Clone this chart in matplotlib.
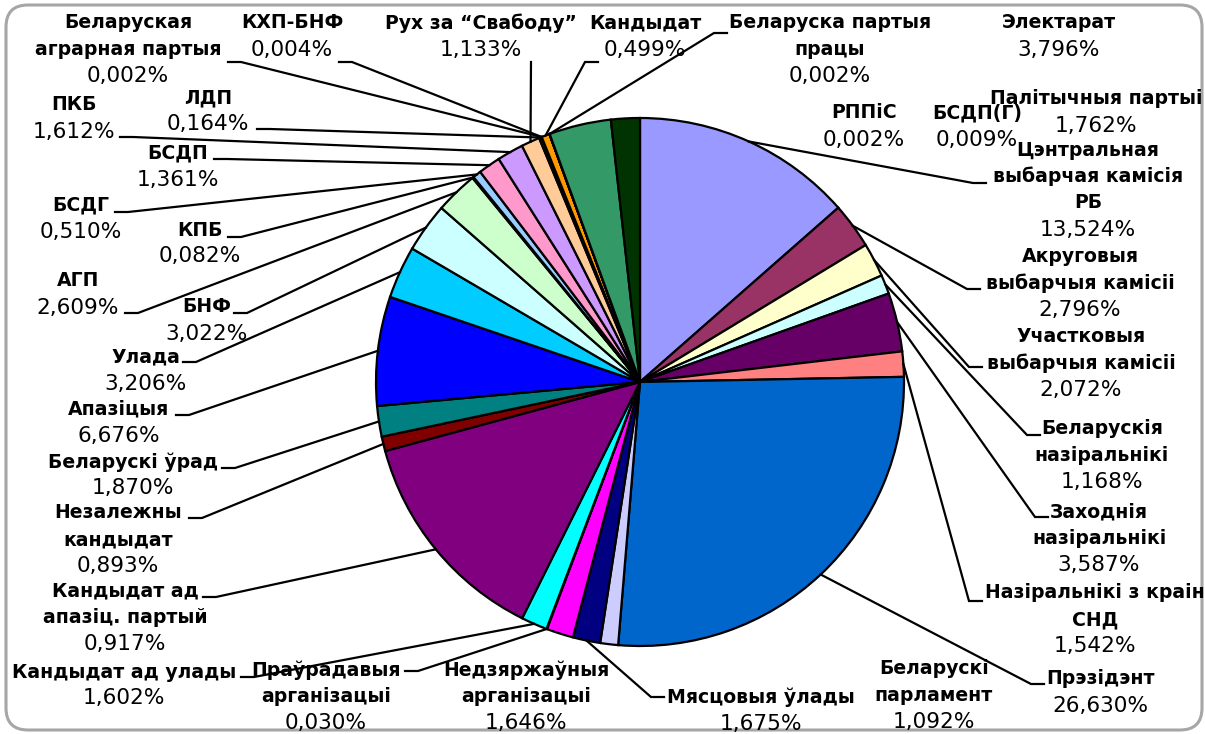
import matplotlib
matplotlib.use('Agg')
import matplotlib.pyplot as plt
from matplotlib.patches import FancyBboxPatch
import numpy as np

W, H = 1205, 734

# слайсы па гадзіннікавай стрэлцы ад 12 гадзін
names = ['Цэнтральная\nвыбарчая камісія\nРБ', 'Акруговыя\nвыбарчыя камісіі',
         'Участковыя\nвыбарчыя камісіі', 'Беларускія\nназіральнікі',
         'Заходнія\nназіральнікі', 'Назіральнікі з краін\nСНД', 'Прэзідэнт',
         'Беларускі\nпарламент', 'Мясцовыя ўлады', 'Недзяржаўныя\nарганізацыі',
         'Праўрадавыя\nарганізацыі', 'Кандыдат ад улады',
         'Кандыдат ад\nапазіц. партый', 'Незалежны\nкандыдат', 'Беларускі ўрад',
         'Апазіцыя', 'Улада', 'БНФ', 'АГП', 'КПБ', 'БСДГ', 'БСДП', 'ПКБ',
         'Рух за “Свабоду”', 'ЛДП', 'Беларуская\nаграрная партыя', 'КХП-БНФ',
         'Кандыдат', 'Беларуска партыя\nпрацы', 'РППіС', 'БСДП(Г)', 'Электарат',
         'Палітычныя партыі']
values = [13.524, 2.796, 2.072, 1.168, 3.587, 1.542, 26.630, 1.092, 1.675, 1.646,
          0.030, 1.602, 13.42, 0.893, 1.870, 6.676, 3.206, 3.022, 2.609, 0.082,
          0.510, 1.361, 1.612, 1.133, 0.164, 0.002, 0.004, 0.499, 0.002, 0.002,
          0.009, 3.796, 1.762]
pct_labels = ['13,524%', '2,796%', '2,072%', '1,168%', '3,587%', '1,542%', '26,630%',
              '1,092%', '1,675%', '1,646%', '0,030%', '1,602%', '0,917%', '0,893%',
              '1,870%', '6,676%', '3,206%', '3,022%', '2,609%', '0,082%', '0,510%',
              '1,361%', '1,612%', '1,133%', '0,164%', '0,002%', '0,004%', '0,499%',
              '0,002%', '0,002%', '0,009%', '3,796%', '1,762%']
colors = ['#9999FF', '#993366', '#FFFFCC', '#CCFFFF', '#660066', '#FF8080', '#0066CC',
          '#CCCCFF', '#000080', '#FF00FF', '#FFFF00', '#00FFFF', '#800080', '#800000',
          '#008080', '#0000FF', '#00CCFF', '#CCFFFF', '#CCFFCC', '#FFFF99', '#99CCFF',
          '#FF99CC', '#CC99FF', '#FFCC99', '#333333', '#333333', '#333333', '#FF9900',
          '#333333', '#333333', '#333333', '#339966', '#003300']

# размяшчэнне подпісаў (пікселі ад левага верхняга кута): цэнтр x, y першага радка
label_pos = [(1088, 150), (1080, 257), (1081, 337), (1102, 429), (1099, 512),
             (1095, 593), (1100, 679), (934, 669), (761, 697), (526, 670),
             (326, 670), (124, 672), (125, 591), (118, 513), (133, 462),
             (119, 409), (146, 357), (207, 307), (78, 281), (200, 230),
             (81, 205), (178, 153), (74, 105), (481, 23), (208, 98),
             (128, 23), (292, 23), (645, 23), (830, 23), (864, 113),
             (977, 113), (1059, 23), (1096, 99)]
# пачатак лініі-вынаскі каля подпісу (None - без лініі)
leader_from = [(986, 183), (980, 289), (982, 367), (1040, 435), (1048, 517),
               (982, 601), (1044, 684), None, (664, 697), None,
               (405, 671), (241, 677), (203, 597), (189, 518), (222, 468),
               (176, 415), (183, 362), (234, 313), (125, 313), (228, 237),
               (115, 212), (214, 159), (120, 137), (531, 62), (257, 129),
               (228, 62), (339, 62), (598, 62), (727, 33), None,
               None, None, None]

LS = 26.5
cx, cy, r = 640, H - 382, 264

fig = plt.figure(figsize=(W / 100, H / 100), dpi=100)
ax = fig.add_axes([0, 0, 1, 1])
wedges, _ = ax.pie(values, colors=colors, startangle=90, counterclock=False,
                   radius=r, center=(cx, cy),
                   wedgeprops=dict(edgecolor='black', linewidth=1.6))
ax.set_xlim(0, W)
ax.set_ylim(0, H)
ax.set_aspect('auto')
ax.axis('off')

# лініі-вынаскі
for w, src in zip(wedges, leader_from):
    if src is None:
        continue
    th = np.deg2rad((w.theta1 + w.theta2) / 2)
    ex, ey = cx + r * np.cos(th), cy + r * np.sin(th)
    sx, sy = src[0], H - src[1]
    if abs(ex - sx) < 5:
        stub = 0
    else:
        stub = 13 * np.sign(ex - sx)
    ax.plot([sx, sx + stub, ex], [sy, sy, ey], color='black', lw=1.6,
            solid_joinstyle='miter', zorder=3)

# подпісы
for name, pct, (x, y0) in zip(names, pct_labels, label_pos):
    lines = name.split('\n')
    for k, line in enumerate(lines):
        ax.text(x, H - (y0 + k * LS), line, ha='center', va='center',
                fontsize=13.6, fontweight='bold', color='black', zorder=4)
    ax.text(x, H - (y0 + len(lines) * LS), pct, ha='center', va='center',
            fontsize=15.6, color='black', zorder=4)

# рамка дыяграмы
frame = FancyBboxPatch((6, H - 730), 1196, 725,
                       boxstyle='round,pad=0,rounding_size=22',
                       fill=False, edgecolor='#A6A6A6', linewidth=2.2)
ax.add_patch(frame)

fig.savefig('out.png', dpi=100)
